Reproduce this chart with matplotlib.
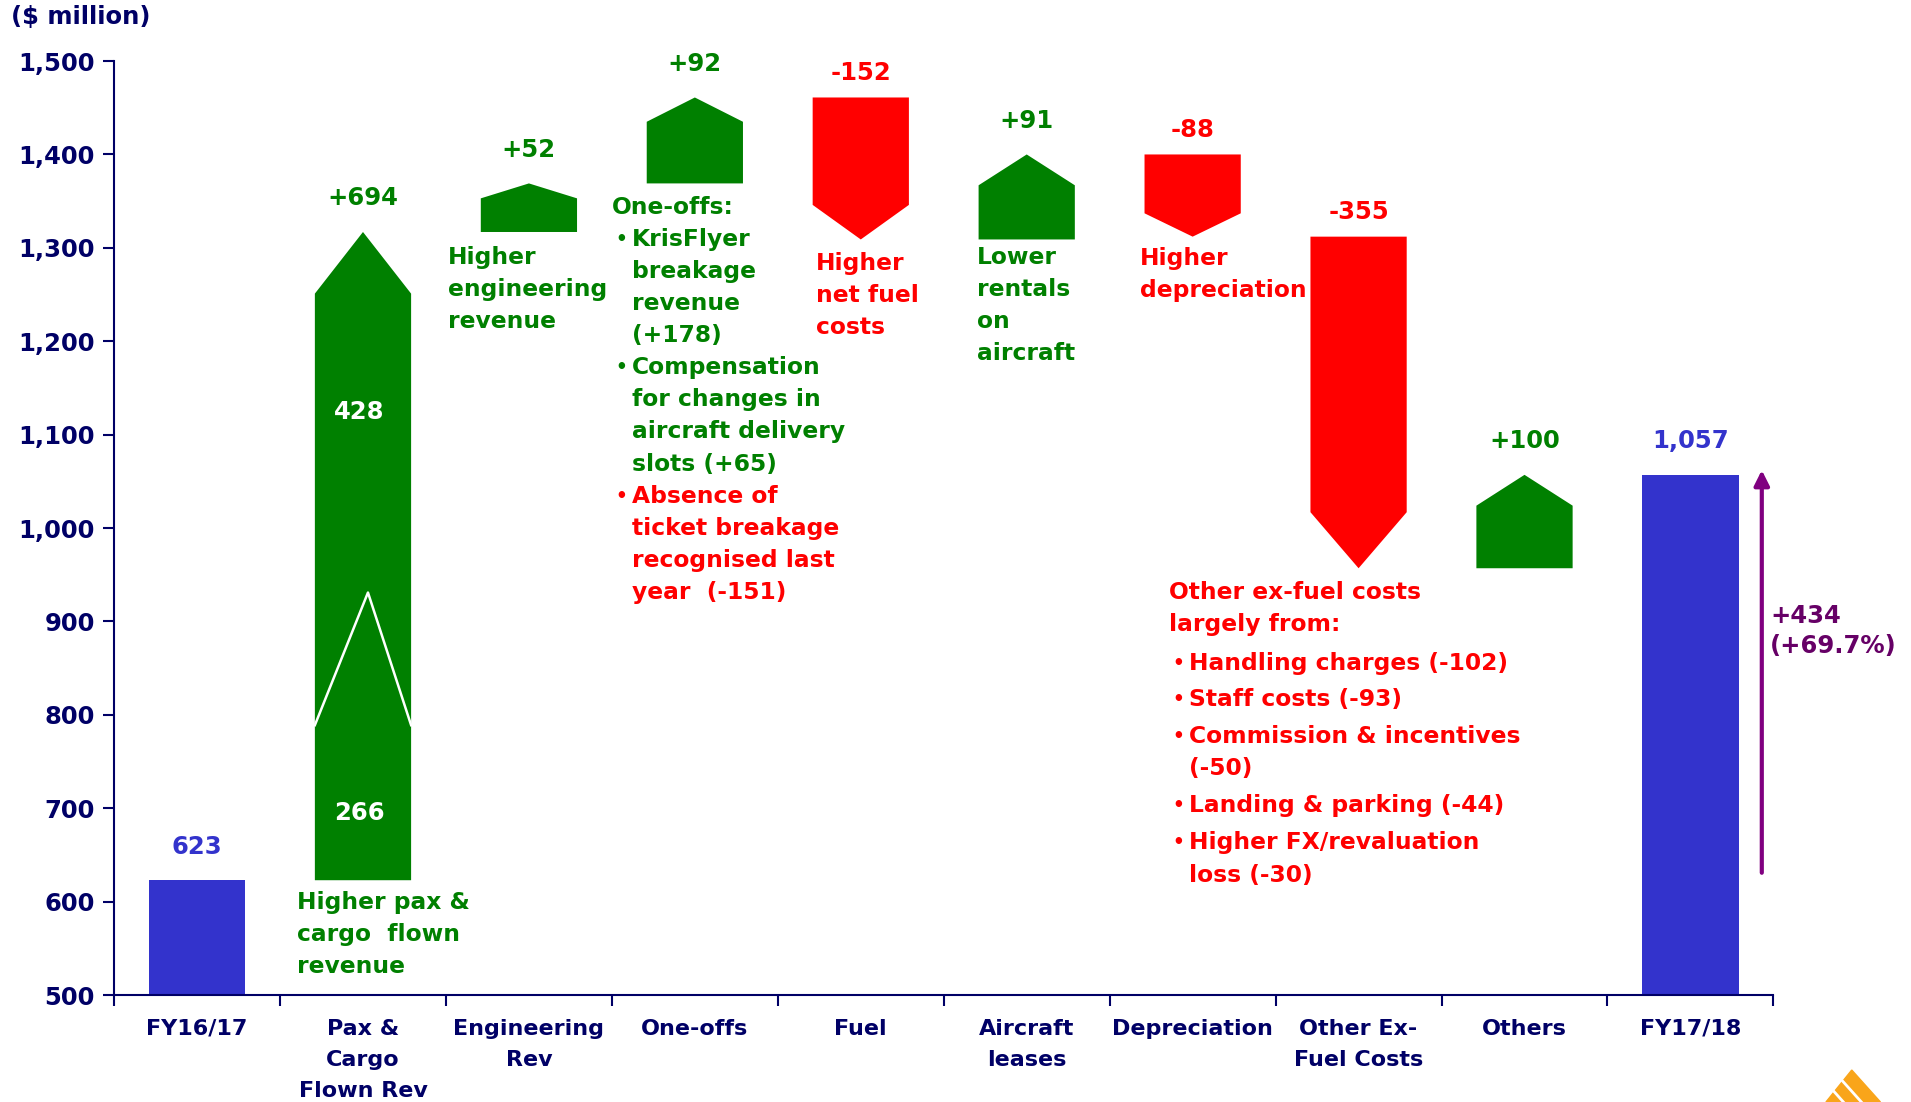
import numpy as np
import matplotlib.pyplot as plt
from matplotlib.patches import Polygon
from matplotlib.lines import Line2D

# Waterfall: FY16/17 -> FY17/18 ($ million)
categories = ["FY16/17", "Pax &\nCargo\nFlown Rev", "Engineering\nRev", "One-offs", "Fuel",
              "Aircraft\nleases", "Depreciation", "Other Ex-\nFuel Costs", "Others", "FY17/18"]
start_val = 623
end_val = 1057
deltas = [694, 52, 92, -152, 91, -88, -355, 100]
delta_labels = ["+694", "+52", "+92", "-152", "+91", "-88", "-355", "+100"]
pax_split = [266, 428]
total_change = "+434\n(+69.7%)"

NAVY = "#000066"
GREEN = "#008000"
RED = "#FF0000"
BLUE = "#3333CC"
PURPLE = "#800080"

plt.rcParams['font.family'] = ['DejaVu Sans']
plt.rcParams['font.weight'] = 'bold'

fig = plt.figure(figsize=(19.11, 11.02), dpi=100)
ax = fig.add_axes([0.0597, 0.097, 0.8683, 0.8476])

w = 0.58
heads = [66, 16, 26, 37, 33, 25, 60, 33]  # arrow-head heights (style)
lfs = 17.5  # value label size

# start / end bars
ax.bar([0, 9], [start_val - 500, end_val - 500], bottom=500, width=w, color=BLUE, zorder=2)
ax.text(0, start_val + 36, "623", color=BLUE, ha='center', va='center', fontsize=lfs)
ax.text(9, end_val + 36, "1,057", color=BLUE, ha='center', va='center', fontsize=lfs)

level = start_val
for i, d in enumerate(deltas):
    x = i + 1
    lo, hi = level, level + d
    h = heads[i]
    if d > 0:
        pts = [(x - w/2, lo), (x + w/2, lo), (x + w/2, hi - h), (x, hi), (x - w/2, hi - h)]
        col = GREEN
        ax.text(x, hi + 36, delta_labels[i], color=col, ha='center', va='center', fontsize=lfs)
    else:
        pts = [(x - w/2, lo), (x + w/2, lo), (x + w/2, hi + h), (x, hi), (x - w/2, hi + h)]
        col = RED
        ax.text(x, lo + 26, delta_labels[i], color=col, ha='center', va='center', fontsize=lfs)
    ax.add_patch(Polygon(pts, closed=True, color=col, lw=0, zorder=2))
    level = hi

# break mark and split labels inside pax bar
zb = start_val + pax_split[0] - 100
ax.plot([1 - w/2, 1.03, 1 + w/2], [zb, zb + 142, zb], color='white', lw=1.8, zorder=3)
ax.text(0.98, start_val + 72, str(pax_split[0]), color='white', ha='center', va='center', fontsize=lfs)
ax.text(0.98, start_val + pax_split[0] + 235, str(pax_split[1]), color='white', ha='center', va='center', fontsize=lfs)

step = 34.3
fs = 16.8


def block(x, y0, lines, color, gaps=None):
    y = y0
    for k, ln in enumerate(lines):
        if gaps is not None:
            y -= gaps[k]
        if ln.startswith("• "):
            ax.text(x, y, "•", color=color, ha='left', va='center', fontsize=fs * 0.8)
            ax.text(x + 0.1, y, ln[2:], color=color, ha='left', va='center', fontsize=fs)
        elif ln.startswith("  "):
            ax.text(x + 0.1, y, ln.strip(), color=color, ha='left', va='center', fontsize=fs)
        else:
            ax.text(x, y, ln, color=color, ha='left', va='center', fontsize=fs)
        if gaps is None:
            y -= step


block(0.60, 599, ["Higher pax &", "cargo  flown", "revenue"], GREEN)
block(1.51, 1290, ["Higher", "engineering", "revenue"], GREEN)
block(2.50, 1343, ["One-offs:"], GREEN)
block(2.52, 1343 - step, ["• KrisFlyer", "  breakage", "  revenue", "  (+178)",
                          "• Compensation", "  for changes in", "  aircraft delivery", "  slots (+65)"], GREEN)
block(2.52, 1343 - 9 * step, ["• Absence of", "  ticket breakage", "  recognised last", "  year  (-151)"], RED)
block(3.73, 1283, ["Higher", "net fuel", "costs"], RED)
block(4.70, 1290, ["Lower", "rentals", "on", "aircraft"], GREEN)
block(5.68, 1289, ["Higher", "depreciation"], RED)
block(5.86, 931, ["Other ex-fuel costs", "largely from:"], RED)
block(5.88, 897, ["• Handling charges (-102)", "• Staff costs (-93)", "• Commission & incentives",
                  "  (-50)", "• Landing & parking (-44)", "• Higher FX/revaluation", "  loss (-30)"],
      RED, gaps=[42, 39, 39, 34, 40, 40, 35])

# overall change arrow
ax.annotate("", xy=(9.43, end_val + 8), xytext=(9.43, start_val + 5),
            arrowprops=dict(arrowstyle='-|>,head_width=0.45,head_length=0.9', color=PURPLE, lw=3),
            annotation_clip=False)
ax.text(9.48, 890, total_change, color="#660066", ha='left', va='center', fontsize=lfs,
        linespacing=1.3, clip_on=False)

# axes styling
ax.set_xlim(-0.5, 9.5)
ax.set_ylim(500, 1500)
ax.set_yticks(np.arange(500, 1501, 100))
ax.set_yticklabels([f"{v:,}" for v in range(500, 1501, 100)])
ax.set_xticks(np.arange(-0.5, 9.6, 1))
ax.set_xticklabels([])
ax.set_xticks(np.arange(10), minor=True)
ax.set_xticklabels(categories, minor=True)
ax.tick_params(axis='x', which='minor', length=0, pad=17, labelsize=16, labelcolor=NAVY)
ax.tick_params(axis='x', which='major', length=8, width=1.5, color=NAVY, direction='out')
ax.tick_params(axis='y', length=8, width=1.5, color=NAVY, labelsize=17.5, labelcolor=NAVY, pad=6)
for lbl in ax.get_xticklabels(minor=True):
    lbl.set_linespacing(1.7)
for s in ['top', 'right']:
    ax.spines[s].set_visible(False)
for s in ['left', 'bottom']:
    ax.spines[s].set_color(NAVY)
    ax.spines[s].set_linewidth(1.5)

fig.text(0.006, 0.985, "($ million)", color=NAVY, fontsize=17.5, ha='left', va='center')

# corner logo: orange triangle with white diagonal stripes
apex = (0.969, 0.029)
bl, br = (0.9555, 0.0), (0.984, 0.0)
fig.patches.append(Polygon([apex, br, bl], closed=True, transform=fig.transFigure, color="#F9A51A"))
dx, dy = br[0] - apex[0], br[1] - apex[1]
for t in (0.35, 0.68):
    sx = apex[0] + (bl[0] - apex[0]) * t
    sy = apex[1] * (1 - t)
    s = sy / -dy
    fig.lines.append(Line2D([sx, sx + dx * s], [sy, 0.0], transform=fig.transFigure,
                            color='white', lw=2))

fig.savefig("out.png", dpi=100)
